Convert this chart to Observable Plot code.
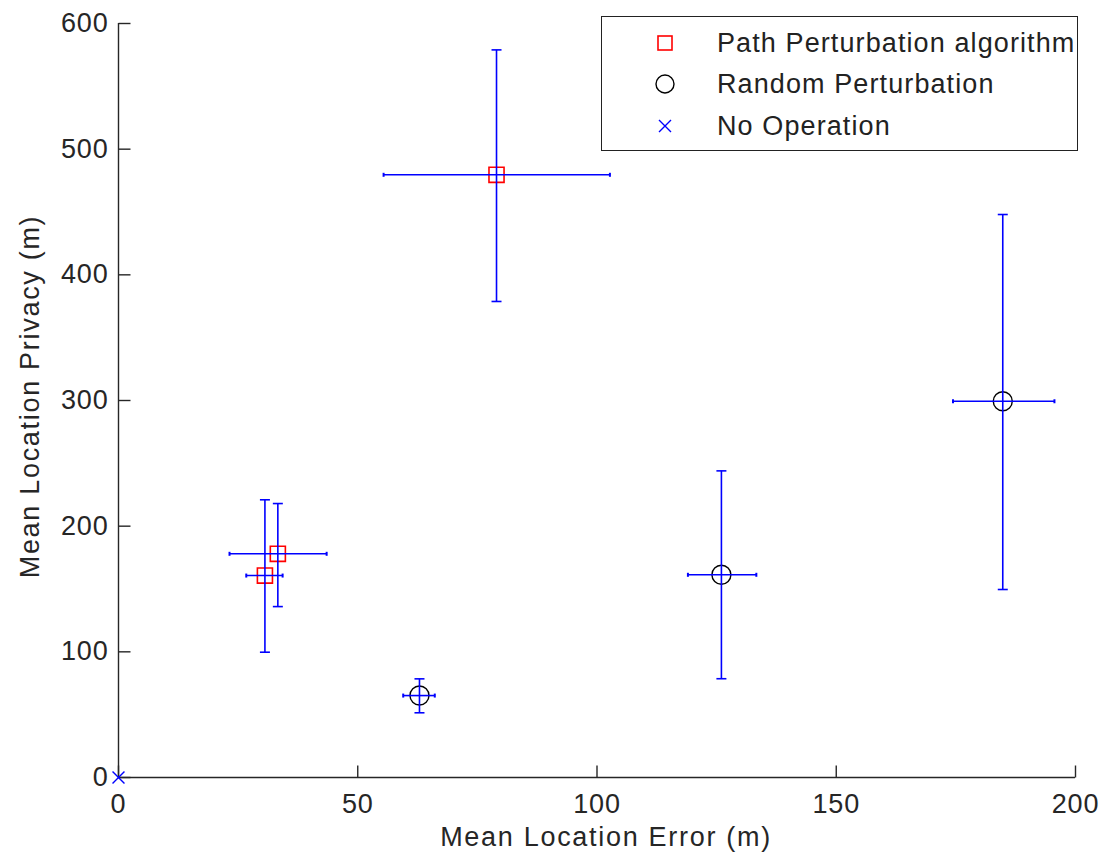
<!DOCTYPE html>
<html>
<head>
<meta charset="utf-8">
<script src="https://cdn.jsdelivr.net/npm/d3@7"></script>
<script src="https://cdn.jsdelivr.net/npm/@observablehq/plot@0.6"></script>
<style>
  html, body { margin: 0; padding: 0; background: #fff; }
  #wrap { position: relative; width: 1104px; height: 853px; font-family: "Liberation Sans", Arial, sans-serif; }
  #legend { position: absolute; left: 601px; top: 16px; width: 475px; height: 133px; border: 1.5px solid #222; background: #fff; }
  .row { position: absolute; left: 0; height: 40px; display: flex; align-items: center; font-size: 27px; color: #222; letter-spacing: 1.1px; }
  .row svg { position: absolute; left: 46px; }
  .row span { position: absolute; left: 115px; white-space: nowrap; }
  .axtitle { letter-spacing: 1.7px; }
  .ticklab { letter-spacing: 0.8px; }
</style>
</head>
<body>
<div id="wrap"></div>
<script>
// ---- data ----
const series = ["Path Perturbation algorithm", "Path Perturbation algorithm", "Path Perturbation algorithm",
                "Random Perturbation", "Random Perturbation", "Random Perturbation", "No Operation"];
const meanError   = [30.6, 33.3, 79.0, 62.9, 126.0, 184.8, 0];
const meanPrivacy = [160.7, 178.0, 479.6, 65.2, 161.3, 299.4, 0];
const errorLow    = [26.7, 23.2, 55.4, 59.5, 119.0, 174.4, null];
const errorHigh   = [34.3, 43.5, 102.7, 66.1, 133.3, 195.6, null];
const privacyLow  = [99.7, 136.0, 378.8, 51.5, 78.6, 149.6, null];
const privacyHigh = [221.0, 218.0, 579.0, 78.5, 244.0, 448.0, null];
const xTicks = [0, 50, 100, 150, 200];
const yTicks = [0, 100, 200, 300, 400, 500, 600];
const legendLabels = ["Path Perturbation algorithm", "Random Perturbation", "No Operation"];

// ---- table ----
const rows = series.map((s, i) => ({
  series: s, x: meanError[i], y: meanPrivacy[i],
  xlo: errorLow[i], xhi: errorHigh[i], ylo: privacyLow[i], yhi: privacyHigh[i]
}));
const bars = rows.filter(d => d.xlo != null);

const hcap = { draw(ctx) { ctx.moveTo(-5, 0); ctx.lineTo(5, 0); } };
const vcap = { draw(ctx) { ctx.moveTo(0, -2); ctx.lineTo(0, 2); } };
const xTickSym = { draw(ctx) { ctx.moveTo(0, 0); ctx.lineTo(0, -12); } };
const yTickSym = { draw(ctx) { ctx.moveTo(0, 0); ctx.lineTo(12, 0); } };

const blue = "#0000ff";
const axisColor = "#262626";

const chart = Plot.plot({
  width: 1104,
  height: 853,
  marginLeft: 118,
  marginRight: 29,
  marginTop: 23,
  marginBottom: 76,
  style: { fontFamily: "Liberation Sans, Arial, sans-serif", fontSize: "27px", color: axisColor, background: "#fff" },
  x: { domain: [0, 200], ticks: xTicks },
  y: { domain: [0, 600], ticks: yTicks },
  marks: [
    Plot.axisX(xTicks, { tickSize: 0, tickPadding: 16, label: null, fill: axisColor, className: "ticklab" }),
    Plot.axisY(yTicks, { tickSize: 0, tickPadding: 10, label: null, fill: axisColor, className: "ticklab" }),
    Plot.ruleY([0], { stroke: axisColor, strokeWidth: 1.4 }),
    Plot.ruleX([0], { stroke: axisColor, strokeWidth: 1.4 }),
    Plot.dot(xTicks, { x: d => d, y: 0, symbol: xTickSym, stroke: axisColor, strokeWidth: 1.4 }),
    Plot.dot(yTicks, { x: 0, y: d => d, symbol: yTickSym, stroke: axisColor, strokeWidth: 1.4 }),
    Plot.text(["Mean Location Error (m)"], { frameAnchor: "bottom", textAnchor: "middle", dx: 9, dy: 60, lineAnchor: "middle", text: d => d, fill: axisColor, className: "axtitle" }),
    Plot.text(["Mean Location Privacy (m)"], { frameAnchor: "left", textAnchor: "middle", dx: -88, dy: -4, rotate: -90, lineAnchor: "middle", text: d => d, fill: axisColor, className: "axtitle" }),
    // markers
    Plot.dot(rows.filter(d => d.series === "Path Perturbation algorithm"), { x: "x", y: "y", symbol: "square", r: 8.5, stroke: "#ff0000", strokeWidth: 1.6, fill: "none" }),
    Plot.dot(rows.filter(d => d.series === "Random Perturbation"), { x: "x", y: "y", symbol: "circle", r: 9.5, stroke: "#000", strokeWidth: 1.4, fill: "none" }),
    Plot.dot(rows.filter(d => d.series === "No Operation"), { x: "x", y: "y", symbol: "times", r: 5.5, stroke: blue, strokeWidth: 1.4 }),
    // error bars
    Plot.link(bars, { x1: "x", x2: "x", y1: "ylo", y2: "yhi", stroke: blue, strokeWidth: 1.6 }),
    Plot.link(bars, { x1: "xlo", x2: "xhi", y1: "y", y2: "y", stroke: blue, strokeWidth: 1.6 }),
    Plot.dot(bars, { x: "x", y: "ylo", symbol: hcap, stroke: blue, strokeWidth: 1.6 }),
    Plot.dot(bars, { x: "x", y: "yhi", symbol: hcap, stroke: blue, strokeWidth: 1.6 }),
    Plot.dot(bars, { x: "xlo", y: "y", symbol: vcap, stroke: blue, strokeWidth: 2 }),
    Plot.dot(bars, { x: "xhi", y: "y", symbol: vcap, stroke: blue, strokeWidth: 2 })
  ]
});

const wrap = document.getElementById("wrap");
wrap.appendChild(chart);

// legend
const legend = document.createElement("div");
legend.id = "legend";
const symbolsSvg = [
  '<svg width="34" height="34" viewBox="-17 -17 34 34"><rect x="-7" y="-7" width="14" height="14" fill="none" stroke="#ff0000" stroke-width="1.6"/></svg>',
  '<svg width="34" height="34" viewBox="-17 -17 34 34"><circle r="9" fill="none" stroke="#000" stroke-width="1.4"/></svg>',
  '<svg width="34" height="34" viewBox="-17 -17 34 34"><path d="M-6,-6L6,6M-6,6L6,-6" stroke="#0000ff" stroke-width="1.4"/></svg>'
];
const rowCenters = [26, 67, 109];
legendLabels.forEach((lab, i) => {
  const r = document.createElement("div");
  r.className = "row";
  r.style.top = (rowCenters[i] - 20) + "px";
  r.style.width = "100%";
  r.innerHTML = symbolsSvg[i] + "<span>" + lab + "</span>";
  legend.appendChild(r);
});
wrap.appendChild(legend);
</script>
</body>
</html>
